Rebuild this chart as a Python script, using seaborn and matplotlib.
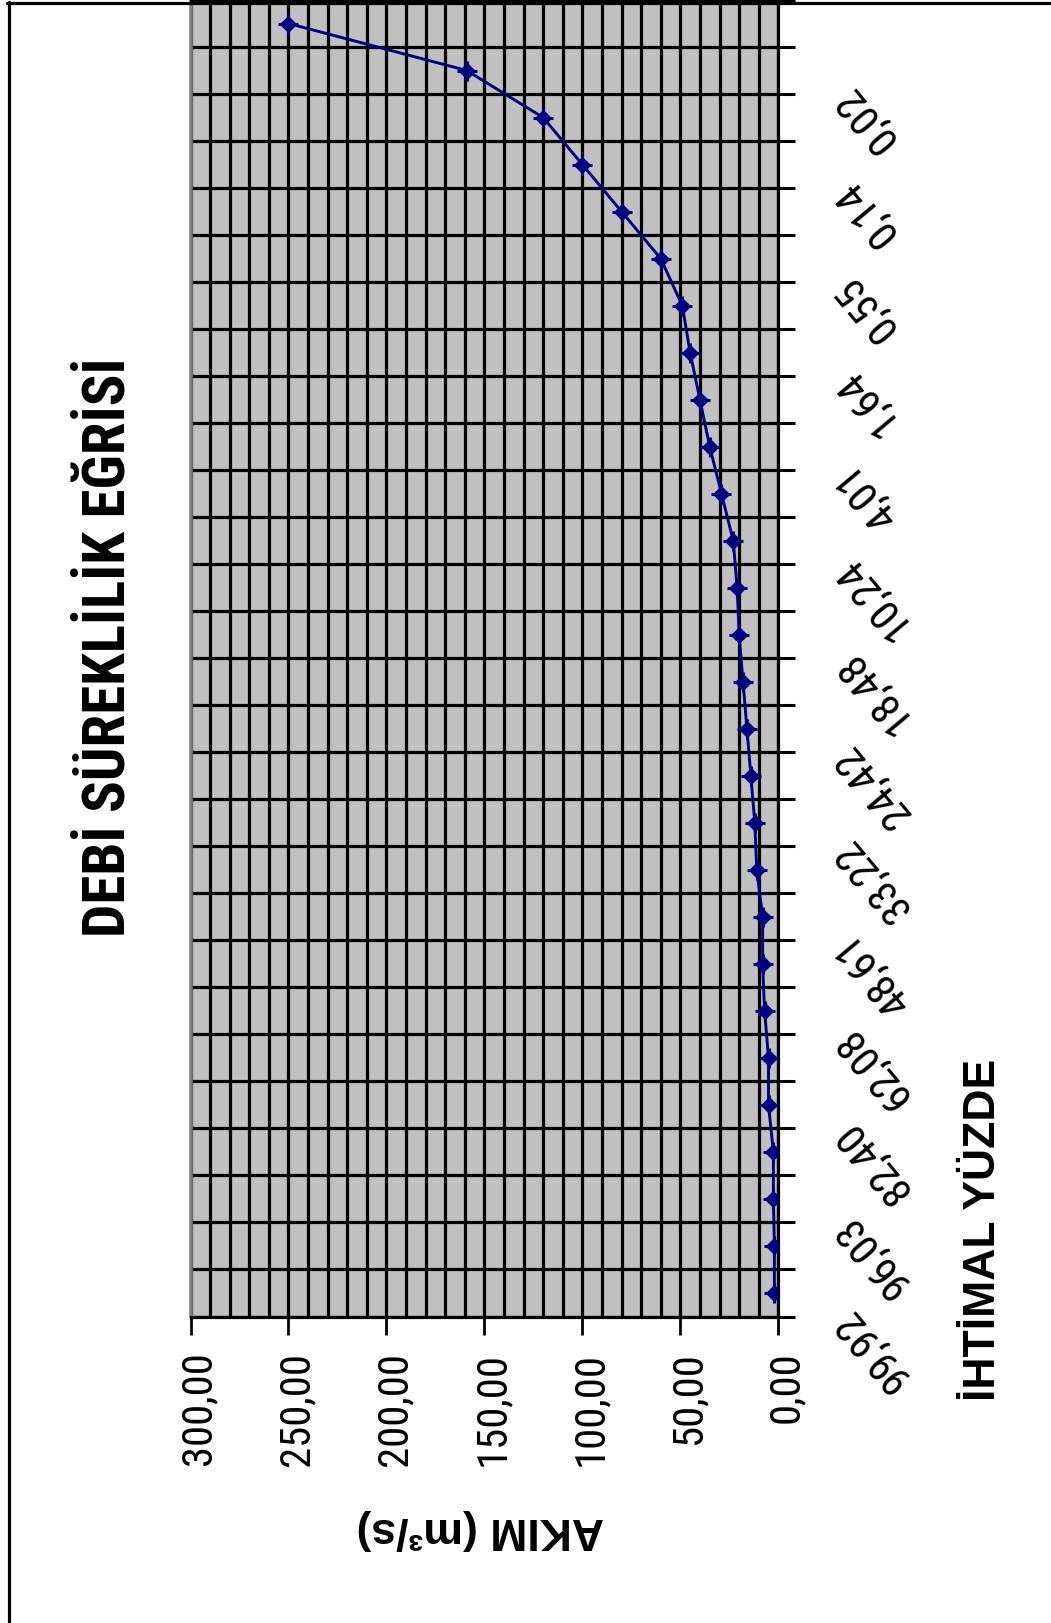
import matplotlib
matplotlib.use("Agg")
import matplotlib.pyplot as plt
import matplotlib.transforms as mtransforms
from matplotlib.lines import Line2D
from matplotlib.ticker import FixedLocator, MultipleLocator
from matplotlib import font_manager
from matplotlib.font_manager import FontProperties
import seaborn as sns
import numpy as np
import pandas as pd

# ---------------- data ----------------
# exceedance-probability labels (shown on every second category)
prob_labels = ["0,02", "0,14", "0,55", "1,64", "4,01", "10,24", "18,48",
               "24,42", "33,22", "48,61", "62,08", "82,40", "96,03", "99,92"]
# discharge values (m3/s), one per category, from top (highest) to bottom
flow = [250, 159, 120, 100, 80, 60, 49, 45, 40, 35, 29, 23, 21, 20,
        18, 16, 14, 12, 11, 8, 8, 7, 5, 5, 2.5, 2.5, 2, 2]
value_ticks = [0, 50, 100, 150, 200, 250, 300]
value_tick_labels = ["0,00", "50,00", "100,00", "150,00", "200,00", "250,00", "300,00"]
title_text = "DEBİ SÜREKLİLİK EĞRİSİ"
cat_axis_title = "İHTİMAL YÜZDE"
val_axis_title = "AKIM (m³/s)"

# ---------------- fonts ----------------
def _wnum(w):
    if isinstance(w, (int, float)):
        return w
    return font_manager.weight_dict.get(str(w).lower(), 400)


def find_condensed(bold):
    prefs = ["Liberation Sans Narrow", "Roboto Condensed", "DejaVu Sans",
             "Open Sans Condensed", "Noto Sans", "Arial Narrow"]
    cands = []
    for f in font_manager.fontManager.ttflist:
        cond = (str(f.stretch) in ("condensed", "semi-condensed", "extra-condensed",
                                   "ultra-condensed")
                or "Narrow" in f.name or "Condensed" in f.name
                or "Condensed" in f.fname or "Narrow" in f.fname)
        if not cond or f.style != "normal":
            continue
        wb = _wnum(f.weight) >= 600
        if wb != bold:
            continue
        cands.append(f)
    for p in prefs:
        for f in cands:
            if f.name == p:
                return f.fname
    return cands[0].fname if cands else None


reg_file = find_condensed(False)
bold_file = find_condensed(True)

sns.set_theme(style="white")
plt.rcParams["font.family"] = ["Liberation Sans", "DejaVu Sans"]

if reg_file:
    fp_tick = FontProperties(fname=reg_file)
else:
    fp_tick = FontProperties(family="Liberation Sans")
if bold_file:
    fp_title = FontProperties(fname=bold_file)
else:
    fp_title = FontProperties(family="Liberation Sans", weight="bold")
fp_axis = FontProperties(family="Liberation Sans", weight="bold")

W, H = 1051, 1624
fig = plt.figure(figsize=(W / 100, H / 100), dpi=100, facecolor="white")
renderer = fig.canvas.get_renderer()


def fit_size(text, fp, size, target_px):
    f = fp.copy()
    f.set_size(size)
    t = fig.text(0, 0, text, fontproperties=f)
    w = t.get_window_extent(renderer=renderer).width
    t.remove()
    return size * target_px / w


title_size = fit_size(title_text, fp_title, 40, 578)
tick_size = min(33, fit_size("300,00", fp_tick, 32, 114))
fp_title.set_size(title_size)
fp_tick.set_size(tick_size)
fp_axis.set_size(32)

L, R, T, B = 190.5, 778.3, 1.0, 1317.5
ax = fig.add_axes([L / W, 1 - B / H, (R - L) / W, (B - T) / H])
ax.set_facecolor("#C0C0C0")

n = len(flow)
df = pd.DataFrame({"flow": flow, "pos": np.arange(n)})
navy = "#000080"
sns.lineplot(data=df, x="flow", y="pos", sort=False, estimator=None, color=navy,
             lw=2.1, marker="D", markersize=8, markeredgecolor=navy,
             markerfacecolor=navy, ax=ax, zorder=3)
ax.plot(df["flow"], df["pos"], ls="none", marker="+", ms=15, mew=2.2, color=navy, zorder=3)
ax.set_xlabel("")
ax.set_ylabel("")

ax.set_xlim(300, 0)
ax.set_ylim(n - 0.5, -0.5)

# value axis (bottom)
ax.set_xticks(value_ticks)
ax.set_xticklabels(value_tick_labels)
ax.xaxis.set_minor_locator(MultipleLocator(10))
ax.tick_params(axis="x", which="major", direction="out", length=13, width=2.0,
               color="black", pad=11.5, bottom=True, top=False, labelcolor="black")
ax.tick_params(axis="x", which="minor", length=0, bottom=True)

# category axis (right)
ax.yaxis.tick_right()
ax.set_yticks(df["pos"].values[1::2])
ax.set_yticklabels(prob_labels)
ax.yaxis.set_minor_locator(FixedLocator(np.arange(-0.5, n, 1.0)))
ax.tick_params(axis="y", which="major", length=0, pad=46,
               right=True, left=False, labelcolor="black")
ax.tick_params(axis="y", which="minor", direction="out", length=12.2, width=2.2,
               color="black", right=True, left=False)

ax.grid(which="both", axis="x", color="black", lw=2.3)
ax.grid(which="minor", axis="y", color="black", lw=2.3)
ax.grid(which="major", axis="y", visible=False)
ax.set_axisbelow(True)

for s in ["right", "bottom", "top"]:
    ax.spines[s].set_color("black")
    ax.spines[s].set_linewidth(2.3)
ax.spines["left"].set_color("#808080")
ax.spines["left"].set_linewidth(2.6)

# tick label alignment
off_x = mtransforms.ScaledTranslation(20 / 100, 0, fig.dpi_scale_trans)
for lbl in ax.get_xticklabels():
    lbl.set_fontproperties(fp_tick)
    lbl.set_rotation(90)
    lbl.set_rotation_mode("anchor")
    lbl.set_ha("right")
    lbl.set_va("baseline")
    lbl.set_transform(lbl.get_transform() + off_x)

off_y = mtransforms.ScaledTranslation(0, -20 / 100, fig.dpi_scale_trans)
for lbl in ax.get_yticklabels():
    lbl.set_fontproperties(fp_tick)
    lbl.set_rotation(130)
    lbl.set_rotation_mode("anchor")
    lbl.set_ha("right")
    lbl.set_va("center")
    lbl.set_transform(lbl.get_transform() + off_y)

# titles
fig.text(125 / W, 1 - 647 / H, title_text, rotation=90, rotation_mode="anchor",
         ha="center", va="baseline", fontproperties=fp_title, color="black")
fig.text(995 / W, 1 - 1229.5 / H, cat_axis_title, rotation=90, rotation_mode="anchor",
         ha="center", va="baseline", fontproperties=fp_axis, color="black")
fig.text(480 / W, 1 - 1518 / H, val_axis_title, rotation=180, rotation_mode="anchor",
         ha="center", va="baseline", fontproperties=fp_axis, color="black")

# frame lines (top and left)
fig.add_artist(Line2D([7 / W, 1.0], [1 - 4.3 / H, 1 - 4.3 / H], transform=fig.transFigure,
                      color="black", lw=2.3, zorder=10))
fig.add_artist(Line2D([8.7 / W, 8.7 / W], [0.0, 1 - 3 / H], transform=fig.transFigure,
                      color="black", lw=2.3, zorder=10))

fig.savefig("out.png", dpi=100, facecolor="white")
